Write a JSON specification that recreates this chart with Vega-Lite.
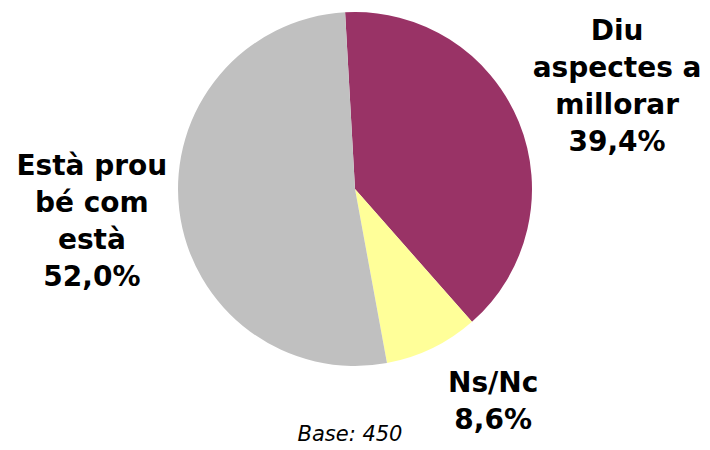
{
  "$schema": "https://vega.github.io/schema/vega-lite/v6.json",
  "width": 710,
  "height": 378,
  "autosize": "none",
  "padding": {"top": 0, "left": 0, "right": 0, "bottom": 72},
  "background": "white",
  "config": {"view": {"stroke": null}},
  "title": {
    "text": "Base: 450",
    "orient": "bottom",
    "anchor": "middle",
    "offset": -11,
    "dx": -5,
    "font": "DejaVu Sans",
    "fontSize": 21,
    "fontStyle": "italic",
    "fontWeight": "normal",
    "color": "#000000"
  },
  "data": {
    "values": [
      {"cat": "Diu aspectes a millorar", "idx": 1, "value": 39.4, "label": "Diu\naspectes a\nmillorar\n39,4%"},
      {"cat": "Ns/Nc", "idx": 2, "value": 8.6, "label": "Ns/Nc\n8,6%"},
      {"cat": "Està prou bé com està", "idx": 3, "value": 52.0, "label": "Està prou\nbé com\nestà\n52,0%"}
    ]
  },
  "encoding": {
    "theta": {"field": "value", "type": "quantitative", "stack": true, "scale": {"range": [-0.056, 6.2272]}},
    "order": {"field": "idx", "type": "ordinal"}
  },
  "layer": [
    {
      "mark": {"type": "arc", "radius": 177},
      "encoding": {
        "color": {
          "field": "cat",
          "type": "nominal",
          "scale": {
            "domain": ["Diu aspectes a millorar", "Ns/Nc", "Està prou bé com està"],
            "range": ["#993366", "#FFFF99", "#C0C0C0"]
          },
          "legend": null
        }
      }
    },
    {
      "mark": {"type": "text", "radius": 280, "dx": 3, "dy": -51, "font": "DejaVu Sans", "fontWeight": "bold", "fontSize": 28, "lineHeight": 37, "lineBreak": "\n", "align": "center", "baseline": "middle", "color": "#000000"},
      "encoding": {
        "text": {"condition": {"test": "datum.cat === 'Diu aspectes a millorar'", "field": "label"}, "value": ""}
      }
    },
    {
      "mark": {"type": "text", "radius": 250, "dx": 29, "dy": -30, "font": "DejaVu Sans", "fontWeight": "bold", "fontSize": 28, "lineHeight": 37, "lineBreak": "\n", "align": "center", "baseline": "middle", "color": "#000000"},
      "encoding": {
        "text": {"condition": {"test": "datum.cat === 'Ns/Nc'", "field": "label"}, "value": ""}
      }
    },
    {
      "mark": {"type": "text", "radius": 265, "dy": -53, "font": "DejaVu Sans", "fontWeight": "bold", "fontSize": 28, "lineHeight": 37, "lineBreak": "\n", "align": "center", "baseline": "middle", "color": "#000000"},
      "encoding": {
        "text": {"condition": {"test": "datum.cat === 'Està prou bé com està'", "field": "label"}, "value": ""}
      }
    }
  ]
}
